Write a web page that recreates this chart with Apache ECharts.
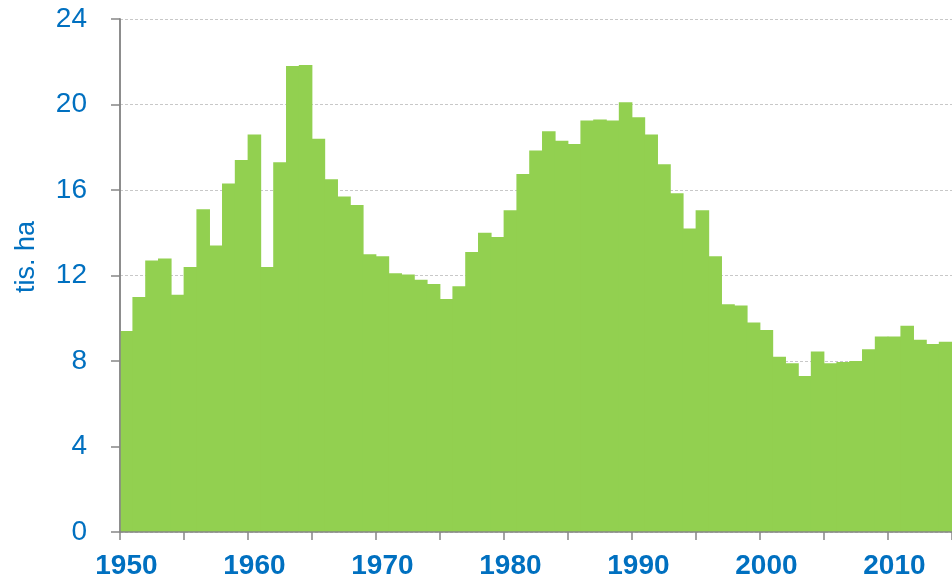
<!DOCTYPE html>
<html>
<head>
<meta charset="utf-8">
<script src="https://cdn.jsdelivr.net/npm/echarts@6/dist/echarts.min.js"></script>
<style>
  html, body { margin: 0; padding: 0; background: #ffffff; }
  #main { width: 952px; height: 580px; }
</style>
</head>
<body>
<div id="main"></div>
<script>
// roky 1950 - 2014
var years = [];
for (var y = 1950; y <= 2014; y++) years.push(String(y));

// plocha v tis. ha
var values = [
  9.4, 11.0, 12.7, 12.8, 11.1, 12.4, 15.1, 13.4, 16.3, 17.4,
  18.6, 12.4, 17.3, 21.8, 21.85, 18.4, 16.5, 15.7, 15.3, 13.0,
  12.9, 12.1, 12.05, 11.8, 11.6, 10.9, 11.5, 13.1, 14.0, 13.8,
  15.05, 16.75, 17.85, 18.75, 18.3, 18.15, 19.25, 19.3, 19.25, 20.1,
  19.4, 18.6, 17.2, 15.85, 14.2, 15.05, 12.9, 10.65, 10.6, 9.8,
  9.45, 8.2, 7.9, 7.3, 8.45, 7.9, 7.95, 8.0, 8.55, 9.15,
  9.15, 9.65, 9.0, 8.8, 8.9
];

var yTicks = [0, 4, 8, 12, 16, 20, 24];

var blue = "#0070C0";
var green = "#92D050";
var axisGray = "#868686";

var chart = echarts.init(document.getElementById("main"));
var option = {
  animation: false,
  grid: { left: 120, right: -9, top: 19, bottom: 48, containLabel: false },
  xAxis: {
    type: "category",
    data: years,
    boundaryGap: true,
    z: 5,
    axisLine: { show: true, lineStyle: { color: axisGray, width: 1.5 } },
    axisTick: { show: true, interval: 4, length: 8, lineStyle: { color: axisGray, width: 1.5 } },
    axisLabel: {
      interval: 9,
      margin: 20,
      color: blue,
      fontSize: 28,
      fontWeight: "bold",
      fontFamily: "Liberation Sans, Arial, sans-serif"
    },
    splitLine: { show: false }
  },
  yAxis: [
    {
      type: "value",
      min: yTicks[0],
      max: yTicks[yTicks.length - 1],
      interval: 4,
      axisLine: { show: true, lineStyle: { color: axisGray, width: 1.5 } },
      axisTick: { show: true, length: 9, lineStyle: { color: axisGray, width: 1.5 } },
      axisLabel: {
        margin: 33,
        color: blue,
        fontSize: 28,
        fontFamily: "Liberation Sans, Arial, sans-serif"
      },
      splitLine: { show: true, lineStyle: { color: "#c8c8c8", type: [3, 2], width: 1 } }
    },
    {
      // jen osa nad sloupci
      type: "value",
      position: "left",
      min: yTicks[0],
      max: yTicks[yTicks.length - 1],
      interval: 4,
      z: 5,
      axisLine: { show: true, lineStyle: { color: axisGray, width: 1.5 } },
      axisTick: { show: false },
      axisLabel: { show: false },
      splitLine: { show: false }
    }
  ],
  graphic: [
    {
      type: "text",
      x: 27,
      y: 257,
      rotation: Math.PI / 2,
      style: {
        text: "tis. ha",
        fill: blue,
        fontSize: 27,
        fontFamily: "Liberation Sans, Arial, sans-serif",
        align: "center",
        verticalAlign: "middle"
      }
    }
  ],
  series: [
    {
      name: "plocha",
      type: "bar",
      data: values,
      barWidth: "106%",
      itemStyle: { color: green }
    }
  ]
};
chart.setOption(option);
window.addEventListener("resize", function () {
  chart.resize();
});
</script>
</body>
</html>
